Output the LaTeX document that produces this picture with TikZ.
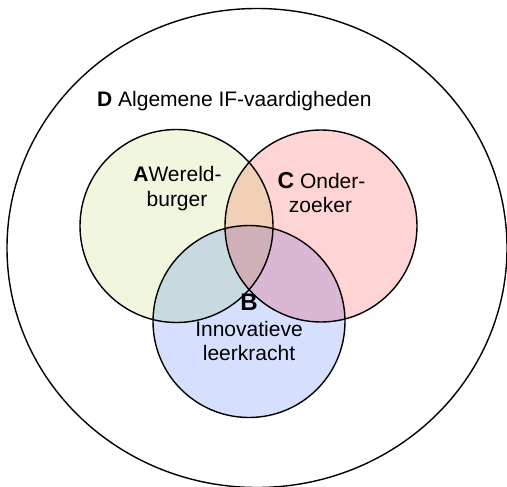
\documentclass[tikz,border=0pt]{standalone}
\usepackage{fontspec}
\setmainfont{Liberation Sans}
\definecolor{colA}{HTML}{F1F7DF}
\definecolor{colC}{HTML}{FFD4D4}
\definecolor{colB}{HTML}{D6DFFE}
\definecolor{colAC}{HTML}{F1D0B8}
\definecolor{colAB}{HTML}{C8D9E0}
\definecolor{colBC}{HTML}{DAB8D4}
\definecolor{colABC}{HTML}{D0B0B8}
\begin{document}
\begin{tikzpicture}[x=1pt,y=-1pt,
  ring/.style={draw=black,line width=1.4pt},
  lbl/.style={inner sep=0pt,anchor=base,font=\fontsize{21}{24}\selectfont},
  biglbl/.style={inner sep=0pt,anchor=base,font=\fontsize{24}{26}\selectfont\bfseries}]
\useasboundingbox (0,0) rectangle (507,487);
\def\circA{(176.5,226) circle[radius=96.5pt]}
\def\circC{(321,226) circle[radius=96pt]}
\def\circB{(249,321.5) circle[radius=96pt]}
% outer
\draw[ring] (257,248) ellipse[x radius=250pt,y radius=239.5pt];
% base fills
\fill[colA] \circA;
\fill[colC] \circC;
\fill[colB] \circB;
\begin{scope}\clip \circA; \fill[colAC] \circC; \end{scope}
\begin{scope}\clip \circA; \fill[colAB] \circB; \end{scope}
\begin{scope}\clip \circC; \fill[colBC] \circB; \end{scope}
\begin{scope}\clip \circA; \clip \circC; \fill[colABC] \circB; \end{scope}
\draw[ring] \circA;
\draw[ring] \circC;
\draw[ring] \circB;
% labels
\node[lbl,anchor=base west] (d) at (97,107) {\textbf{D} Algemene IF-vaardigheden};
\node[lbl] (a1) at (177.5,182) {\textbf{A}Wereld-};
\node[lbl] (a2) at (177,206.5) {burger};
\node[lbl] (c1) at (321.5,188.5) {{\fontsize{23}{24}\selectfont\bfseries C} Onder-};
\node[lbl] (c2) at (320.5,212.5) {zoeker};
\node[biglbl] (b0) at (249,310) {B};
\node[lbl] (b1) at (249,336.5) {Innovatieve};
\node[lbl] (b2) at (249,360.5) {leerkracht};
\end{tikzpicture}
\end{document}
